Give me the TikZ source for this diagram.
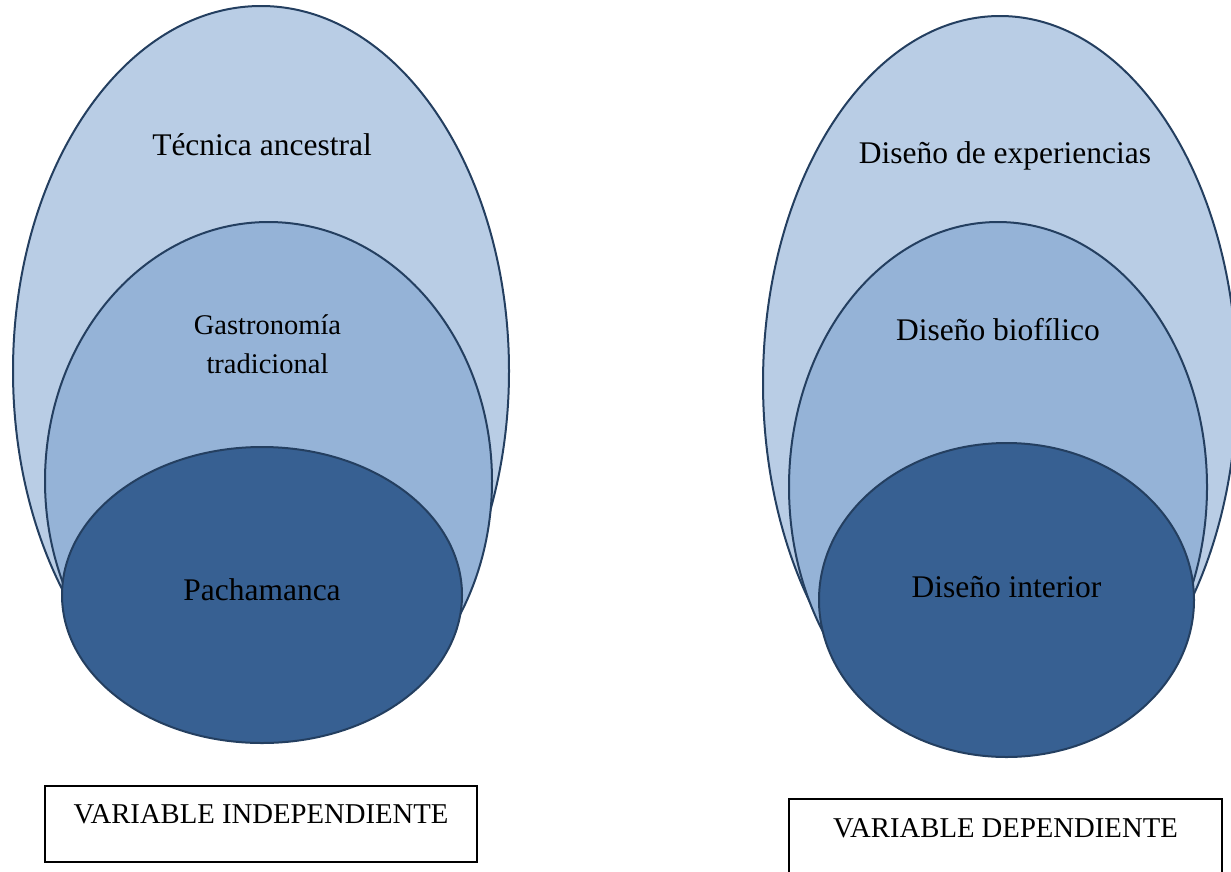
\documentclass[tikz,border=0pt]{standalone}
\usepackage{fontspec}
\setmainfont{Liberation Serif}
\usetikzlibrary{shapes.geometric}
\definecolor{lightb}{HTML}{B9CDE5}
\definecolor{midb}{HTML}{95B3D7}
\definecolor{darkb}{HTML}{376092}
\definecolor{edgeb}{HTML}{243F60}
\begin{document}
\begin{tikzpicture}[x=1pt,y=-1pt,
  oval/.style={ellipse, draw=edgeb, line width=2pt, inner sep=0pt},
  lbl/.style={anchor=base, font=\fontsize{31.5}{38}\selectfont, inner sep=0pt},
  varbox/.style={draw=black, line width=1.3pt, inner sep=0pt, anchor=base,
    font=\fontsize{28.7}{34}\selectfont}]
\useasboundingbox (0,0) rectangle (1231,871);
\clip (0,0) rectangle (1231,871);
% left group
\node[oval, fill=lightb, minimum width=496pt, minimum height=730pt] (lo) at (261,371) {};
\node[oval, fill=midb, minimum width=447pt, minimum height=518pt] (lm) at (268.5,481) {};
\node[oval, fill=darkb, minimum width=400pt, minimum height=296pt] (li) at (262,595) {};
\node[lbl] (lot) at (262,155) {Técnica ancestral};
\node[anchor=center, align=center, inner sep=0pt, font=\fontsize{28.5}{39}\selectfont] (lmt) at (267.5,344) {Gastronomía\\tradicional};
\node[lbl] (lit) at (262,600) {Pachamanca};
% right group
\node[oval, fill=lightb, minimum width=474pt, minimum height=734pt] (ro) at (1000,383) {};
\node[oval, fill=midb, minimum width=418pt, minimum height=530pt] (rm) at (998,487) {};
\node[oval, fill=darkb, minimum width=375pt, minimum height=314pt] (ri) at (1006.5,600) {};
\node[lbl] (rot) at (1005,163) {Diseño de experiencias};
\node[lbl] (rmt) at (998,340) {Diseño biofílico};
\node[lbl] (rit) at (1006.5,597) {Diseño interior};
% boxes
\node[varbox, minimum width=432pt, text height=37pt, text depth=39pt] (vi) at (261,823) {VARIABLE INDEPENDIENTE};
\node[varbox, minimum width=433pt, text height=38pt, text depth=42pt] (vd) at (1005.5,837) {VARIABLE DEPENDIENTE};
\end{tikzpicture}
\end{document}
